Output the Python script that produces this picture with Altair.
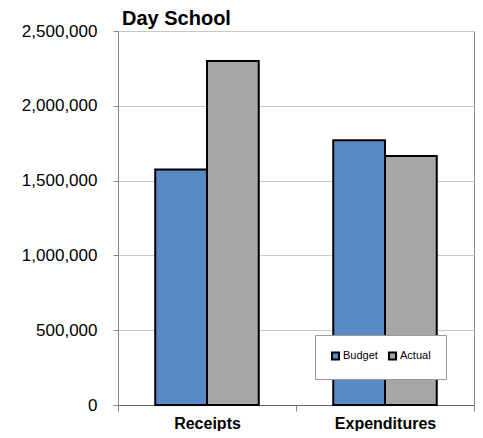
import altair as alt
import pandas as pd

categories = ["Receipts", "Receipts", "Expenditures", "Expenditures"]
series = ["Budget", "Actual", "Budget", "Actual"]
values = [1575000, 2300000, 1770000, 1665000]

df = pd.DataFrame({"category": categories, "series": series, "value": values})

FONT = "Liberation Sans"

chart = alt.Chart(df).mark_bar(stroke="black", strokeWidth=2).encode(
    x=alt.X("category:N", sort=["Receipts", "Expenditures"],
            scale=alt.Scale(paddingInner=0, paddingOuter=0),
            axis=alt.Axis(title=None, labelAngle=0, labelFont=FONT, labelFontSize=16,
                          labelFontWeight="bold", labelColor="black", tickBand="extent",
                          tickSize=6, tickColor="#888", domainColor="#666", labelPadding=4,
                          grid=False)),
    xOffset=alt.XOffset("series:N", sort=["Budget", "Actual"],
                        scale=alt.Scale(paddingInner=0, paddingOuter=0.72)),
    y=alt.Y("value:Q", scale=alt.Scale(domain=[0, 2500000]),
            axis=alt.Axis(title=None, format=",d", values=[0, 500000, 1000000, 1500000, 2000000, 2500000],
                          labelFont=FONT, labelFontSize=17, labelColor="black", labelPadding=16,
                          tickSize=5, tickColor="#888", domainColor="#888", gridColor="#c8c8c8")),
    color=alt.Color("series:N", sort=["Budget", "Actual"],
                    scale=alt.Scale(domain=["Budget", "Actual"], range=["#5a8ac6", "#a6a6a6"]),
                    legend=alt.Legend(title=None, orient="none", legendX=197, legendY=304,
                                      direction="horizontal", fillColor="white", strokeColor="#999",
                                      padding=15, symbolType="square", symbolSize=50,
                                      symbolStrokeColor="black", symbolStrokeWidth=2,
                                      labelFont=FONT, labelFontSize=11, labelColor="black",
                                      labelOffset=2, columnPadding=6)),
).properties(
    width=356, height=374,
    title=alt.TitleParams("Day School", anchor="start", font=FONT, fontSize=20,
                          fontWeight="bold", color="black", offset=-7, dx=4, frame="group"),
    padding={"left": 13, "top": 1, "right": 0, "bottom": 0},
).configure_view(stroke="#888", strokeWidth=1)

chart.save("out.html", embed_options={"renderer": "svg", "actions": False})
